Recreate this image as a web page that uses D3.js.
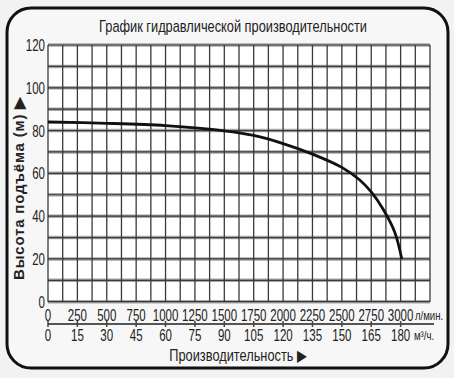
<!DOCTYPE html>
<html>
<head>
<meta charset="utf-8">
<script src="https://cdn.jsdelivr.net/npm/d3@7"></script>
<style>
  body { margin: 0; background: #f2f2f2; }
  svg { display: block; }
  text { font-family: "Liberation Sans", Arial, sans-serif; fill: #222; }
</style>
</head>
<body>
<div id="chart"></div>
<script>
// pump curve: flow (l/min) -> head (m)
let flow = [0, 500, 1000, 1500, 1750, 2000, 2250, 2500, 2650, 2750, 2850, 2950, 3010];
let head = [84, 83.4, 82.3, 79.9, 77.7, 73.9, 69, 62.8, 57, 51.3, 43.3, 32.5, 20];

let flowTicks = [0, 250, 500, 750, 1000, 1250, 1500, 1750, 2000, 2250, 2500, 2750, 3000];
let m3Ticks = [0, 15, 30, 45, 60, 75, 90, 105, 120, 135, 150, 165, 180];
let headTicks = [0, 20, 40, 60, 80, 100, 120];

let title = "График гидравлической производительности";
let yTitle = "Высота подъёма (м) ▶";
let xTitle = "Производительность ▶";

let width = 454, height = 378;
let padLeft = 48, padRight = 430, padTop = 45, padBottom = 301.7;

let svg = d3.select("#chart").append("svg")
  .attr("width", width).attr("height", height);

// condensed text: no narrow font installed, so squeeze horizontally
function narrowText(sel, tx, ty, sx, size) {
  return sel.append("text")
    .attr("transform", "translate(" + tx + "," + ty + ") scale(" + sx + ",1)")
    .attr("font-size", size);
}

// scales
let x = d3.scaleLinear().domain([0, 3250]).range([padLeft, padRight]);
let x2 = d3.scaleLinear().domain([0, 195]).range([padLeft, padRight]);
let y = d3.scaleLinear().domain([0, 120]).range([padBottom, padTop]);

// rounded frame
svg.append("rect")
  .attr("x", 7).attr("y", 8).attr("width", 441).attr("height", 360)
  .attr("rx", 24).attr("ry", 24)
  .attr("fill", "#f7f7f7").attr("stroke", "#111").attr("stroke-width", 3);

narrowText(svg, 233, 32, 0.8, 16)
  .attr("text-anchor", "middle")
  .text(title);

// plot background
svg.append("rect")
  .attr("x", padLeft).attr("y", padTop)
  .attr("width", padRight - padLeft).attr("height", padBottom - padTop)
  .attr("fill", "#fff");

// grid: horizontal every 10 m, vertical every 125 l/min
let hLines = d3.range(0, 121, 10);
let vLines = d3.range(0, 3251, 125);

let grid = svg.append("g");
grid.selectAll(".hband").data(hLines).enter().append("line")
  .attr("x1", padLeft).attr("x2", padRight)
  .attr("y1", d => y(d)).attr("y2", d => y(d))
  .attr("stroke", "#a8a8a8").attr("stroke-width", 3.5);
grid.selectAll(".vline").data(vLines).enter().append("line")
  .attr("x1", d => x(d)).attr("x2", d => x(d))
  .attr("y1", padTop).attr("y2", padBottom)
  .attr("stroke", "#3a3a3a").attr("stroke-width", 1.3);
grid.selectAll(".hline").data(hLines).enter().append("line")
  .attr("x1", padLeft).attr("x2", padRight)
  .attr("y1", d => y(d)).attr("y2", d => y(d))
  .attr("stroke", "#3a3a3a").attr("stroke-width", 1.2);

// y axis labels
let yAxis = svg.append("g")
  .attr("transform", "translate(" + (padLeft - 3) + ",0)")
  .call(d3.axisLeft(y).tickValues(headTicks).tickSize(0).tickPadding(0));
yAxis.select(".domain").remove();
yAxis.attr("font-family", null).attr("font-size", null);
yAxis.selectAll("text")
  .attr("font-size", 16).attr("fill", "#222")
  .attr("transform", "scale(0.72,1)")
  .attr("dy", "0.35em");

svg.append("text")
  .attr("transform", "translate(24,188) rotate(-90)")
  .attr("text-anchor", "middle")
  .attr("font-size", 15).attr("font-weight", "bold")
  .attr("letter-spacing", 0.8)
  .attr("fill", "#333")
  .text(yTitle);

// x axis: two rows of labels around a ruled line
let axisY = 324;
svg.append("line")
  .attr("x1", padLeft).attr("x2", 434)
  .attr("y1", axisY).attr("y2", axisY)
  .attr("stroke", "#555").attr("stroke-width", 2);
svg.selectAll(".xtick").data(flowTicks).enter().append("line")
  .attr("x1", d => x(d)).attr("x2", d => x(d))
  .attr("y1", axisY - 3).attr("y2", axisY + 3)
  .attr("stroke", "#444").attr("stroke-width", 1.5);

flowTicks.forEach(function (d) {
  narrowText(svg, x(d), 321, 0.72, 16).attr("text-anchor", "middle").text(d);
});
m3Ticks.forEach(function (d) {
  narrowText(svg, x2(d), 341, 0.72, 16).attr("text-anchor", "middle").text(d);
});

narrowText(svg, 415, 320, 0.8, 12).text("л/мин.");
narrowText(svg, 414, 340, 0.8, 12).text("м³/ч.");

narrowText(svg, 238, 361, 0.8, 16)
  .attr("text-anchor", "middle")
  .text(xTitle);

// performance curve
let pts = flow.map((f, i) => [f, head[i]]);
svg.append("path")
  .datum(pts)
  .attr("fill", "none")
  .attr("stroke", "#111")
  .attr("stroke-width", 2.8)
  .attr("d", d3.line().x(d => x(d[0])).y(d => y(d[1])).curve(d3.curveCatmullRom.alpha(0.5)));
</script>
</body>
</html>
